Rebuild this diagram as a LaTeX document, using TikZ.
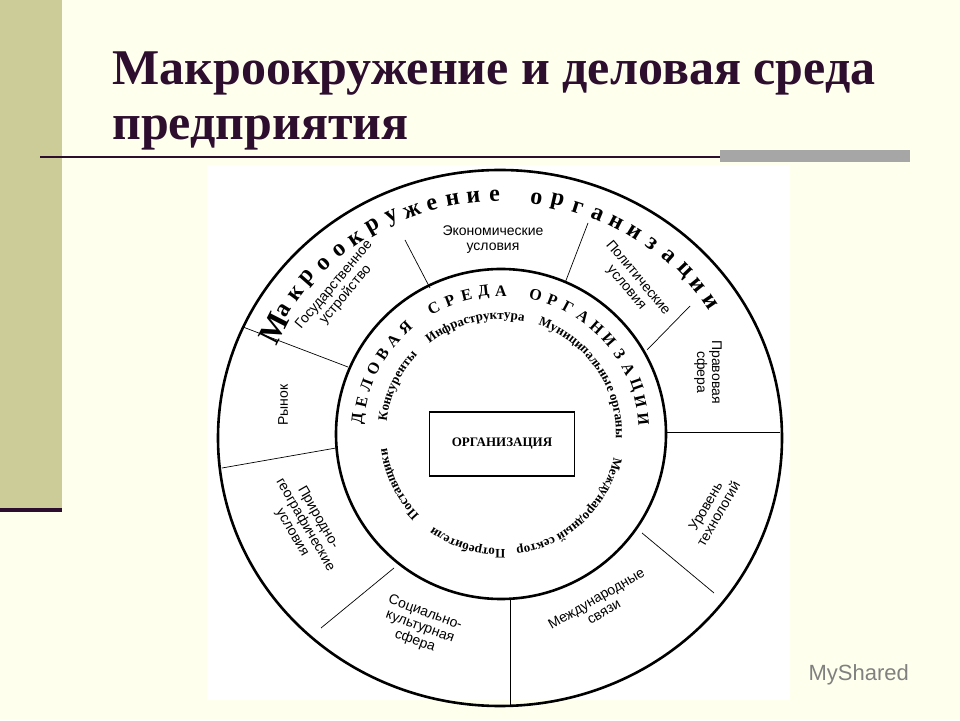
\documentclass[tikz,border=0pt]{standalone}
\usepackage{fontspec}
\setmainfont{Liberation Serif}
\newfontfamily\lsans{Liberation Sans}
\usetikzlibrary{decorations.text}
\definecolor{bgy}{HTML}{FFFFEE}
\definecolor{khaki}{HTML}{CCCC99}
\definecolor{ttl}{HTML}{2E0E2E}
\begin{document}
\begin{tikzpicture}[x=1pt,y=1pt,
  lbl/.style={font=\lsans\fontsize{14}{15}\selectfont, align=center, inner sep=0},
  ring/.style={line width=2.6pt},
  sep/.style={line width=0.7pt}]
\useasboundingbox (0,0) rectangle (960,720);
\fill[bgy] (0,0) rectangle (960,720);
\fill[khaki] (0,210) rectangle (62,720);
\fill[ttl] (0,208) rectangle (62,212);
\fill[white] (207,20) rectangle (790,555);
\draw[line width=1.5pt, ttl] (40,563) -- (910,563);
\fill[gray!70] (720,558) rectangle (910,570);
\node[anchor=base west, text=ttl, font=\bfseries\fontsize{50}{56}\selectfont, inner sep=0] (t1) at (112,635) {Макроокружение и деловая среда};
\node[anchor=base west, text=ttl, font=\bfseries\fontsize{50}{56}\selectfont, inner sep=0] (t2) at (112,580) {предприятия};
% circles
\draw[ring] (500,282) ellipse[x radius=282, y radius=268];
\draw[ring] (501,286) circle[radius=165];
% separators
\coordinate (a1) at (405,480); \coordinate (b1) at (430,432);
\coordinate (a2) at (588,497); \coordinate (b2) at (565,437);
\coordinate (a3) at (690,414); \coordinate (b3) at (647,370);
\coordinate (a4) at (780,288); \coordinate (b4) at (666,288);
\coordinate (a5) at (714,127); \coordinate (b5) at (642,187);
\coordinate (a6) at (510,15);  \coordinate (b6) at (510,122);
\coordinate (a7) at (321,92);  \coordinate (b7) at (394,152);
\coordinate (a8) at (222,252); \coordinate (b8) at (336,272);
\coordinate (a9) at (243,393); \coordinate (b9) at (348,353);
\foreach \i in {1,...,9} \draw[sep] (a\i) -- (b\i);
% center box
\node[draw, line width=1.8pt, minimum width=145, minimum height=64, font=\bfseries\fontsize{13}{14}\selectfont] (org) at (502,276) {ОРГАНИЗАЦИЯ};
% sector labels
\node[lbl] (l1) at (493,480) {Экономические\\условия};
\node[lbl, rotate=-50] (l2) at (632,437) {Политические\\условия};
\node[lbl, rotate=-90] (l3) at (708,348) {Правовая\\сфера};
\node[lbl, rotate=60] (l4) at (712,210) {Уровень\\технологий};
\node[lbl, rotate=30] (l5) at (600,115) {Международные\\связи};
\node[lbl, rotate=-20] (l6) at (420,93) {Социально-\\культурная\\сфера};
\node[lbl, rotate=-60] (l7) at (305,195) {Природно-\\географические\\условия};
\node[lbl, rotate=90] (l8) at (283,315) {Рынок};
\node[lbl, rotate=50] (l9) at (340,430) {Государственное\\устройство};
% outer ring title letters
\foreach \ch [count=\k from 0] in {М,а,к,р,о,о,к,р,у,ж,е,н,и,е, ,о,р,г,а,н,и,з,а,ц,и,и}{
  \pgfmathsetmacro{\ang}{153-\k*4.75}
  \ifnum\k=0
    \node[font=\bfseries\fontsize{32}{32}\selectfont, rotate=\ang-90, inner sep=0] at ({500+254*cos(\ang)},{282+242*sin(\ang)}) {\ch};
  \else
    \node[font=\bfseries\fontsize{24}{24}\selectfont, rotate=\ang-90, inner sep=0] at ({500+254*cos(\ang)},{282+242*sin(\ang)}) {\ch};
  \fi
}
% inner ring letters
\foreach \ch [count=\k from 0] in {Д,Е,Л,О,В,А,Я, ,С,Р,Е,Д,А, ,О,Р,Г,А,Н,И,З,А,Ц,И,И}{
  \pgfmathsetmacro{\ang}{174-\k*7}
  \node[font=\bfseries\fontsize{16}{16}\selectfont, rotate=\ang-90, inner sep=0] at ({501+143*cos(\ang)},{286+143*sin(\ang)}) {\ch};
}
% inner words
\def\iw#1#2#3{\path[decorate, decoration={text along path, text={|\bfseries\fontsize{13}{13}\selectfont|#3}, text align=center}] (501,286) ++(#1:115) arc[start angle=#1, end angle=#2, radius=115];}
\iw{180}{130}{Конкуренты}
\iw{129}{78}{Инфраструктура}
\iw{75}{-6}{Муниципальные органы}
\iw{-10}{-84}{Международный сектор}
\iw{-86}{-128}{Потребители}
\iw{-130}{-178}{Поставщики}
\node[text=gray, font=\lsans\fontsize{22}{22}\selectfont, anchor=west] (wm) at (805,45) {MyShared};
\end{tikzpicture}
\end{document}
